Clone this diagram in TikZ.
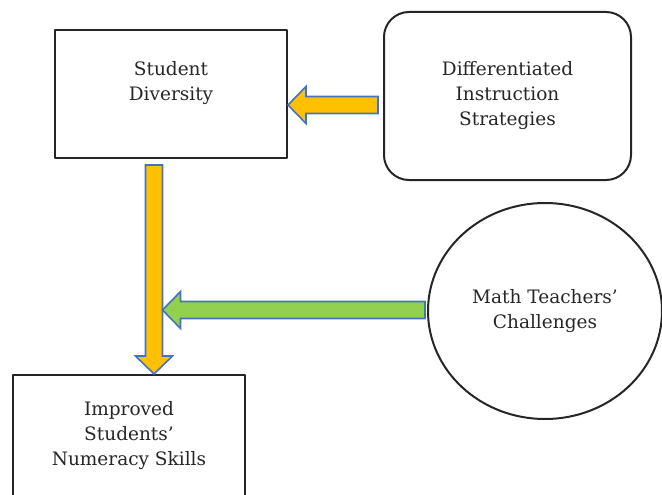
\documentclass[tikz,border=0pt]{standalone}
\usepackage{fontspec}
\setmainfont{DejaVu Serif}
\usepackage{tikz}
\usetikzlibrary{calc,positioning,shapes.geometric}

\definecolor{arroworange}{HTML}{FFC000}
\definecolor{arrowgreen}{HTML}{92D050}
\definecolor{arrowblue}{HTML}{4472C4}
\definecolor{inkgray}{HTML}{262626}

% block arrow from #1 (tail) to #2 (tip), filled with #3
\newcommand{\drawBlockArrow}[3]{
    \coordinate (headbase) at ($(#2)!18pt!(#1)$);
    \filldraw[fill=#3,draw=arrowblue,line width=1.6pt,line join=miter]
        ($(#1)!8.5pt!90:(#2)$) -- ($(headbase)!8.5pt!-90:(#1)$)
        -- ($(headbase)!18.5pt!-90:(#1)$) -- (#2)
        -- ($(headbase)!18.5pt!90:(#1)$) -- ($(headbase)!8.5pt!90:(#1)$)
        -- ($(#1)!8.5pt!-90:(#2)$) -- cycle;
}

\tikzset{
    box/.style={draw=black!85,line width=2pt,align=center,text=inkgray,
        font=\fontsize{18.5}{25}\selectfont},
}

\begin{document}
\begin{tikzpicture}[x=1pt,y=-1pt,line cap=round,line join=round]

        \useasboundingbox (0,0) rectangle (662,495);
        \clip (0,0) rectangle (662,495);

        % --- Concepts ---
        \node[box,minimum width=232pt,minimum height=128pt] (diversity) at (171,94) {Student\\Diversity\\[2pt]};
        \node[box,rounded corners=25pt,minimum width=247pt,minimum height=168pt] (strategies) at (507.5,96) {Differentiated\\Instruction\\Strategies};
        \node[box,ellipse,minimum width=234pt,minimum height=216pt] (challenges) at (545,311) {Math Teachers'\\Challenges};
        \node[box,minimum width=232pt,minimum height=122pt] (improved) at (129,436) {Improved\\Students'\\Numeracy Skills};

        % strategies feed diversity
        \coordinate (stratTail) at ($(strategies.west)+(-5,9)$);
        \coordinate (divTip) at (diversity.east |- stratTail);
        \drawBlockArrow{stratTail}{divTip}{arroworange}

        % diversity leads to improved skills
        \coordinate (divTail) at ($(diversity.south)+(-17,6)$);
        \coordinate (skillTip) at (divTail |- improved.north);
        \drawBlockArrow{divTail}{skillTip}{arroworange}

        % challenges push into the main arrow
        \coordinate (chalTail) at ($(challenges.west)+(-2,-1)$);
        \coordinate (chalTip) at ($(divTail |- chalTail)+(8.5,0)$);
        \drawBlockArrow{chalTail}{chalTip}{arrowgreen}

    \end{tikzpicture}
\end{document}
